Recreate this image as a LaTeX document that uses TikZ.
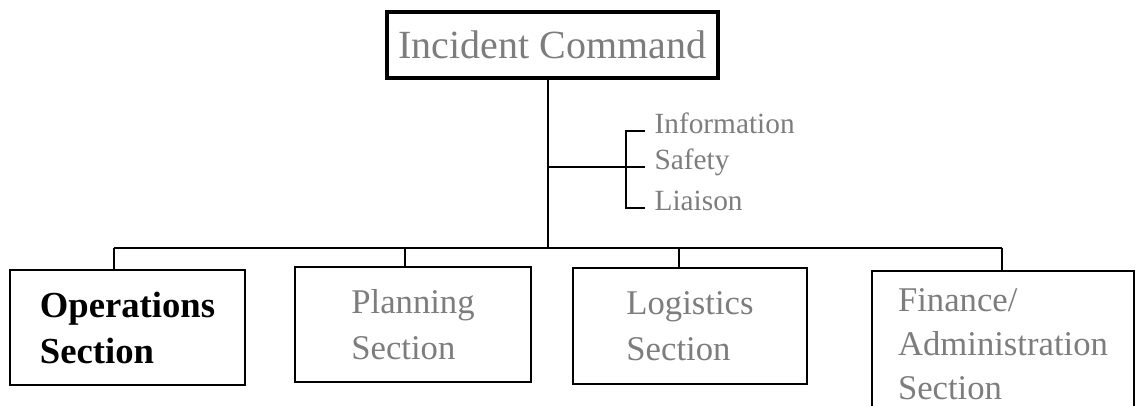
\documentclass[tikz,border=0pt]{standalone}
\usepackage{fontspec}
\setmainfont{Liberation Serif}
\usetikzlibrary{positioning}
\definecolor{dithergray}{RGB}{125,125,125}
\tikzset{
  cmdbox/.style ={rectangle, draw=black, line width=3.4pt, minimum width=248pt,
                  minimum height=49.5pt, inner sep=0pt, text=dithergray,
                  font=\fontsize{30}{35}\selectfont},
  secbox/.style ={rectangle, draw=black, line width=1.5pt, minimum width=176pt,
                  minimum height=86pt, inner sep=0pt, align=left, text=dithergray,
                  font=\fontsize{26}{34.5}\selectfont},
  secmain/.style={secbox, text=black, font=\fontsize{27.5}{34.5}\selectfont\bfseries},
  stafftext/.style={anchor=west, inner ysep=0pt, inner xsep=7pt, text=dithergray,
                  text height=0.7em, text depth=0.25em, font=\fontsize{22}{26}\selectfont},
  orgline/.style={line width=1.5pt, black},
}
\begin{document}
\begin{tikzpicture}[x=0.75pt, y=-0.75pt]
\useasboundingbox (0,0) rectangle (1139,406);
\clip (0,0) rectangle (1139,406);
\node[cmdbox] (ic) at (552.5,45) {Incident Command};
\node[secmain] (ops) at (127.5,327.5) {Operations\\Section};
\node[secbox, minimum width=177pt] (plan) at (413,324.5) {Planning\\Section};
\node[secbox, minimum width=175.5pt, minimum height=87pt] (log) at (690,326) {Logistics\\Section};
\node[secbox, minimum width=196.5pt, minimum height=110pt,
      font=\fontsize{26}{33}\selectfont] (fin) at (1003,344.5) {Finance/\\Administration\\Section};
\node[stafftext] (info)    at (645,131) {Information};
\node[stafftext] (safety)  at (645,167) {Safety};
\node[stafftext] (liaison) at (645,208) {Liaison};
\coordinate (bus)   at (548,248);
\coordinate (staff) at (626,167);
\coordinate (dropops)  at (114,248);
\coordinate (dropplan) at (405,248);
\coordinate (droplog)  at (679,248);
\coordinate (dropfin)  at (1002,248);
% stem and staff bracket
\draw[orgline] (ic.south -| bus) -- (bus);
\draw[orgline] (bus |- staff) -- (staff) -- (safety.west);
\draw[orgline] (info.west) -| (staff |- liaison.west) -- (liaison.west);
% bus to the sections
\draw[orgline] (dropops) -- (dropfin);
\draw[orgline] (dropops) -- (dropops |- ops.north);
\draw[orgline] (dropplan) -- (dropplan |- plan.north);
\draw[orgline] (droplog) -- (droplog |- log.north);
\draw[orgline] (dropfin) -- (dropfin |- fin.north);
\end{tikzpicture}
\end{document}
